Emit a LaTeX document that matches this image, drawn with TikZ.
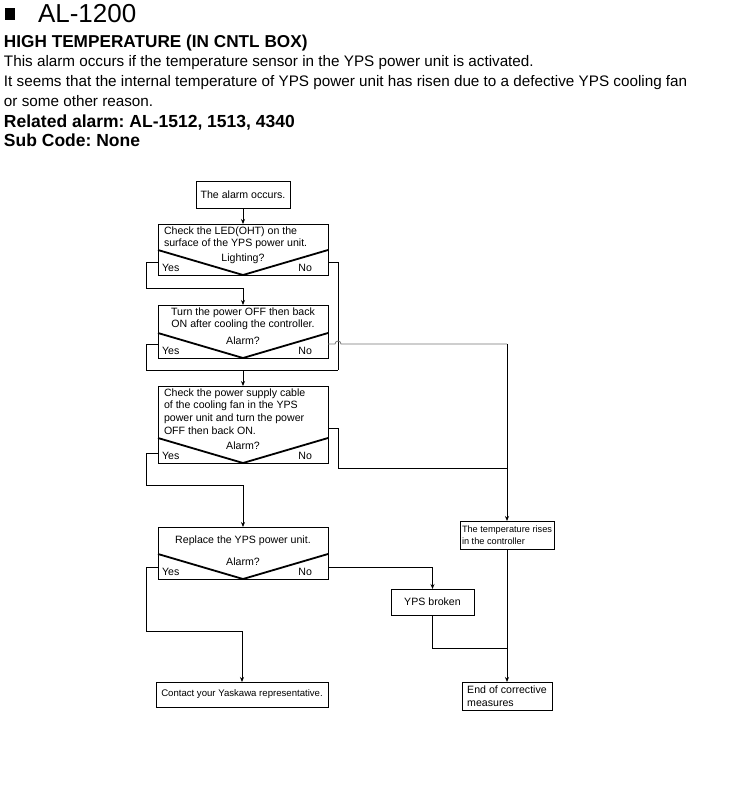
\documentclass[tikz,border=0pt]{standalone}
\usepackage{fontspec}
\setmainfont{Liberation Sans}
\usetikzlibrary{calc,arrows.meta}
\frenchspacing

\begin{document}
\begin{tikzpicture}[x=1pt,y=-1pt,inner sep=0pt,outer sep=0pt,line width=0.8pt,
flowbox/.style={draw,rectangle,inner sep=0pt,font=\fontsize{10.6}{12.5}\selectfont},
smallbox/.style={flowbox,font=\fontsize{9.2}{11.5}\selectfont},
boxtext/.style={inner sep=0pt,font=\fontsize{10.6}{12.7}\selectfont},
vee/.style={line width=1.8pt,line join=bevel},
arr/.style={-{Stealth[length=5pt,width=4pt]}},
bodytext/.style={anchor=base west,inner sep=0pt,font=\fontsize{15.25}{18}\selectfont},
headtext/.style={anchor=base west,inner sep=0pt,font=\bfseries\fontsize{17.5}{20}\selectfont}]

\useasboundingbox (0,0) rectangle (745,806);

% heading
\node[fill,minimum width=10pt,minimum height=12pt] (mark) at (10,14) {};
\node[anchor=base west,font=\fontsize{26}{28}\selectfont] (alno) at (38,22) {AL-1200};
\node[headtext,font=\bfseries\fontsize{17.2}{20}\selectfont] (title) at (4,47) {HIGH TEMPERATURE (IN CNTL BOX)};
\node[bodytext] (line1) at (4,66) {This alarm occurs if the temperature sensor in the YPS power unit is activated.};
\node[bodytext] (line2) at (4,86) {It seems that the internal temperature of YPS power unit has risen due to a defective YPS cooling fan};
\node[bodytext] (line3) at (4,106) {or some other reason.};
\node[headtext] (related) at (4,127) {Related alarm: AL-1512, 1513, 4340};
\node[headtext] (subcode) at (4,146) {Sub Code: None};

% boxes
\node[flowbox,minimum width=94pt,minimum height=27pt] (start) at (243,194.5) {The alarm occurs.};
\node[flowbox,minimum width=170pt,minimum height=51pt] (d1) at (243,249.5) {};
\node[flowbox,minimum width=170pt,minimum height=53pt] (d2) at (243,331.5) {};
\node[flowbox,minimum width=170pt,minimum height=77pt] (d3) at (243,424.5) {};
\node[flowbox,minimum width=170pt,minimum height=52pt] (d4) at (243,553) {};
\node[smallbox,minimum width=94pt,minimum height=28pt,align=left] (temp) at (507,535) {The temperature rises\\in the controller};
\node[flowbox,minimum width=83pt,minimum height=26pt] (broken) at (432.5,602) {YPS broken};
\node[smallbox,font=\fontsize{9.6}{11.5}\selectfont,minimum width=172pt,minimum height=25pt] (contact) at (242,694.5) {Contact your Yaskawa representative.};
\node[flowbox,minimum width=90pt,minimum height=28pt,align=left] (endbox) at (507,696) {End of corrective\\measures};

% box texts
\node[boxtext,anchor=north west,align=left] (d1t) at ($(d1.north west)+(6,2.5)$) {Check the LED(OHT) on the\\surface of the YPS power unit.};
\node[boxtext,anchor=north,align=center] (d2t) at ($(d2.north)+(0,2.5)$) {Turn the power OFF then back\\ON after cooling the controller.};
\node[boxtext,anchor=north west,align=left] (d3t) at ($(d3.north west)+(6,2.5)$) {Check the power supply cable\\of the cooling fan in the YPS\\power unit and turn the power\\OFF then back ON.};
\node[boxtext,anchor=base] (d4t) at ($(d4.north)+(0,16)$) {Replace the YPS power unit.};

\foreach \dn/\q in {d1/Lighting?,d2/Alarm?,d3/Alarm?,d4/Alarm?}{
  \draw[vee] ($(\dn.south west)+(0,-25)$) -- (\dn.south) -- ($(\dn.south east)+(0,-25)$);
  \node[boxtext,anchor=base] (\dn-q) at ($(\dn.south)+(0,-14)$) {\q};
  \node[boxtext,anchor=base west] (\dn-yes) at ($(\dn.south west)+(4,-4)$) {Yes};
  \node[boxtext,anchor=base east] (\dn-no) at ($(\dn.south east)+(-16,-4)$) {No};
}

% connectors
\draw[arr] (start.south) -- (d1.north);
\draw[arr] ($(d1.south west)+(0,-13)$) -- ++(-12,0) -- ++(0,26) -| (d2.north);
\coordinate (m2) at (338,370);
\draw ($(d1.south east)+(0,-13)$) -| (m2);
\draw ($(d2.south west)+(0,-14)$) -- ++(-12,0) |- (m2);
\draw[arr] (d3.north |- m2) -- (d3.north);

\coordinate (d2no) at ($(d2.south east)+(0,-14)$);
\draw[black!55] (d2no) -- ++(7,0) arc[start angle=180,end angle=0,radius=3pt] -- (temp.north |- d2no);
\draw[arr] (temp.north |- d2no) -- (temp.north);

\draw[arr] ($(d3.south west)+(0,-10)$) -- ++(-12,0) -- ++(0,32) -| (d4.north);
\coordinate (j3) at (temp.north |- 0,468);
\draw ($(d3.south east)+(0,-35)$) -- ++(10,0) |- (j3);

\draw[arr] ($(d4.south west)+(0,-12)$) -- ++(-12,0) -- ++(0,64) -| (contact.north);
\draw[arr] ($(d4.south east)+(0,-12)$) -| (broken.north);
\coordinate (j4) at (temp.south |- 0,648);
\draw (broken.south) |- (j4);
\draw[arr] (temp.south) -- (endbox.north);

\end{tikzpicture}
\end{document}
